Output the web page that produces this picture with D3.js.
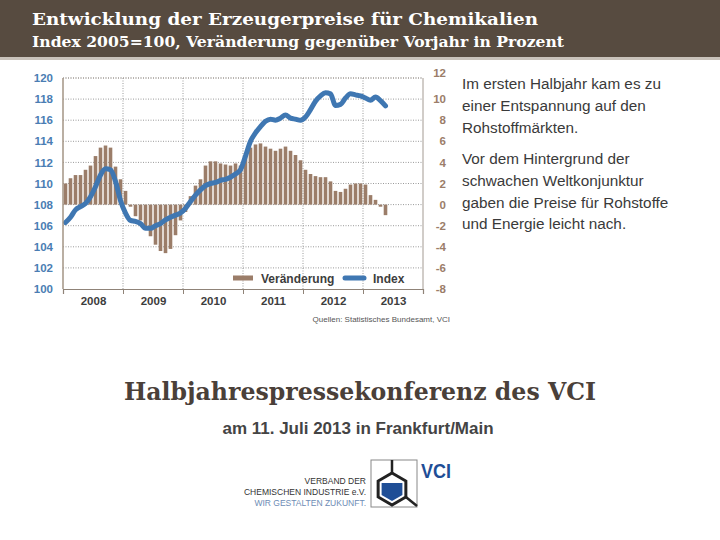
<!DOCTYPE html>
<html lang="de">
<head>
<meta charset="UTF-8">
<title>Erzeugerpreise Chemikalien</title>
<style>
  body { margin: 0; background: #fff; }
  svg { display: block; }
</style>
</head>
<body>
<svg width="720" height="540"></svg>
<script src="https://cdn.jsdelivr.net/npm/d3@7"></script>
<script>
  // Daten: Monatswerte Jan 2008 bis Mai 2013
  var years = ["2008", "2009", "2010", "2011", "2012", "2013"];
  // Veränderung gegenüber Vorjahr in Prozent (rechte Achse)
  var veraenderung = [
    2.0, 2.5, 2.8, 2.8, 3.3, 3.7, 4.6, 5.4, 5.6, 5.4, 3.6, 2.4,
    1.3, -0.2, -1.1, -1.5, -2.3, -3.0, -3.8, -4.4, -4.6, -4.2, -2.9, -1.5,
    -0.7, 0.8, 1.8, 2.4, 3.7, 4.1, 4.1, 3.9, 3.8, 3.7, 3.9, 3.7,
    4.7, 5.4, 5.7, 5.8, 5.5, 5.3, 5.1, 5.3, 5.5, 5.1, 4.7, 4.2,
    3.3, 2.9, 2.7, 2.6, 2.6, 2.2, 1.3, 1.2, 1.5, 1.9, 2.0, 2.0,
    1.9, 0.9, 0.45, -0.2, -1.0
  ];
  // Index 2005=100 (linke Achse)
  var index = [
    106.3, 106.8, 107.5, 107.8, 108.1, 108.75, 109.7, 110.8, 111.4, 111.3, 110.2, 108.4,
    107.2, 106.5, 106.4, 106.2, 105.75, 105.75, 106.0, 106.2, 106.55, 106.8, 107.0, 107.2,
    107.65, 108.3, 108.9, 109.4, 109.8, 110.0, 110.1, 110.3, 110.4, 110.6, 110.9, 111.3,
    112.6, 114.0, 114.8, 115.4, 115.9, 116.1, 116.0, 116.2, 116.5, 116.2, 116.1, 116.0,
    116.3, 117.0, 117.8, 118.3, 118.6, 118.5, 117.4, 117.5, 118.1, 118.5, 118.4, 118.3,
    118.1, 117.9, 118.2, 117.85, 117.35
  ];
  var leftTicks = d3.range(100, 121, 2);
  var rightTicks = d3.range(-8, 13, 2);
  var textLines1 = ["Im ersten Halbjahr kam es zu", "einer Entspannung auf den", "Rohstoffmärkten."];
  var textLines2 = ["Vor dem Hintergrund der", "schwachen Weltkonjunktur", "gaben die Preise für Rohstoffe", "und Energie leicht nach."];

  var svg = d3.select("svg");

  // Kopfzeile
  svg.append("rect").attr("x", 0).attr("y", 0).attr("width", 720).attr("height", 58).attr("fill", "#574b40");
  svg.append("rect").attr("x", 0).attr("y", 57).attr("width", 720).attr("height", 3).attr("fill", "#c9c2ba");
  svg.append("text").attr("x", 32).attr("y", 25)
    .attr("font-family", "DejaVu Serif").attr("font-weight", "bold").attr("font-size", 17)
    .attr("fill", "#fff").attr("textLength", 506).attr("lengthAdjust", "spacingAndGlyphs")
    .text("Entwicklung der Erzeugerpreise für Chemikalien");
  svg.append("text").attr("x", 32).attr("y", 47)
    .attr("font-family", "DejaVu Serif").attr("font-weight", "bold").attr("font-size", 14.5)
    .attr("fill", "#fff").attr("textLength", 532).attr("lengthAdjust", "spacingAndGlyphs")
    .text("Index 2005=100, Veränderung gegenüber Vorjahr in Prozent");

  // Skalen
  var x = d3.scaleLinear().domain([0, 72]).range([63, 423]);
  var yL = d3.scaleLinear().domain([100, 120]).range([289, 78]);
  var yR = d3.scaleLinear().domain([-8, 12]).range([289, 78]);

  var g = svg.append("g");

  // Gitter
  g.append("g").selectAll("line").data(leftTicks.filter(function (d) { return d > 100; })).enter().append("line")
    .attr("x1", 63).attr("x2", 423)
    .attr("y1", function (d) { return yL(d); }).attr("y2", function (d) { return yL(d); })
    .attr("stroke", "#9a9a9a").attr("stroke-width", 1).attr("stroke-dasharray", "1,1.5");
  g.append("g").selectAll("line").data(d3.range(1, 6)).enter().append("line")
    .attr("x1", function (d) { return x(d * 12); }).attr("x2", function (d) { return x(d * 12); })
    .attr("y1", 78).attr("y2", 289)
    .attr("stroke", "#9a9a9a").attr("stroke-width", 1).attr("stroke-dasharray", "1,1.5");

  // Balken
  g.append("g").selectAll("rect").data(veraenderung).enter().append("rect")
    .attr("x", function (d, i) { return x(i + 0.5) - 1.8; })
    .attr("width", 3.6)
    .attr("y", function (d) { return d >= 0 ? yR(d) : yR(0); })
    .attr("height", function (d) { return Math.abs(yR(d) - yR(0)); })
    .attr("fill", "#9b7d69");

  // Indexlinie
  var line = d3.line()
    .x(function (d, i) { return x(i + 0.5); })
    .y(function (d) { return yL(d); })
    .curve(d3.curveMonotoneX);
  g.append("path").datum(index)
    .attr("d", line)
    .attr("fill", "none").attr("stroke", "#3f77b2").attr("stroke-width", 5)
    .attr("stroke-linecap", "round").attr("stroke-linejoin", "round");

  // Achsenlinien
  g.append("line").attr("x1", 63).attr("x2", 63).attr("y1", 78).attr("y2", 289).attr("stroke", "#a39484").attr("stroke-width", 1.5);
  g.append("line").attr("x1", 423).attr("x2", 423).attr("y1", 78).attr("y2", 289).attr("stroke", "#a39a92").attr("stroke-width", 1);
  g.append("line").attr("x1", 63).attr("x2", 423).attr("y1", 78).attr("y2", 78).attr("stroke", "#a39a92").attr("stroke-width", 1).attr("stroke-dasharray", "1,1.5");

  var bottomTicks = d3.axisBottom(x).tickValues(d3.range(0, 73, 12)).tickSize(5).tickFormat("");
  var bt = g.append("g").attr("transform", "translate(0,289)").call(bottomTicks);
  bt.select(".domain").attr("stroke", "#8f8378").attr("stroke-width", 1.2);
  bt.selectAll(".tick line").attr("stroke", "#8f8378");

  var yearAxis = d3.axisBottom(x).tickValues(d3.range(6, 72, 12)).tickSize(0)
    .tickFormat(function (d, i) { return years[i]; });
  var ya = g.append("g").attr("transform", "translate(0,289)").call(yearAxis);
  ya.select(".domain").remove();
  ya.selectAll("text").attr("dy", 12.5).attr("font-family", "Liberation Sans").attr("font-weight", "bold")
    .attr("font-size", 11.5).attr("fill", "#3d3d3d");

  var leftAxis = d3.axisLeft(yL).tickValues(leftTicks).tickSize(0).tickPadding(10);
  var la = g.append("g").attr("transform", "translate(63,0)").call(leftAxis);
  la.select(".domain").remove();
  la.selectAll("text").attr("font-family", "Liberation Sans").attr("font-weight", "bold")
    .attr("font-size", 11.5).attr("fill", "#4a7db3");

  var rightAxis = d3.axisRight(yR).tickValues(rightTicks).tickSize(0)
    .tickFormat(function (d) { return String(d); });
  var ra = g.append("g").attr("transform", "translate(423,0)").call(rightAxis);
  ra.select(".domain").remove();
  ra.selectAll("text").attr("x", 23).attr("text-anchor", "end").attr("font-family", "Liberation Sans")
    .attr("font-weight", "bold").attr("font-size", 11.5).attr("fill", "#9b7d69");
  ra.selectAll(".tick").filter(function (d) { return d === 12; }).select("text").attr("dy", "-0.1em");

  // Legende
  var lg = g.append("g").attr("transform", "translate(0,278)");
  lg.append("rect").attr("x", 233).attr("y", -2.5).attr("width", 20).attr("height", 5).attr("fill", "#9b7d69");
  lg.append("text").attr("x", 261).attr("y", 4.5).attr("font-family", "Liberation Sans").attr("font-weight", "bold")
    .attr("font-size", 12).attr("fill", "#3d3d3d").text("Veränderung");
  lg.append("line").attr("x1", 345).attr("x2", 364).attr("y1", 0).attr("y2", 0)
    .attr("stroke", "#3f77b2").attr("stroke-width", 5).attr("stroke-linecap", "round");
  lg.append("text").attr("x", 373).attr("y", 4.5).attr("font-family", "Liberation Sans").attr("font-weight", "bold")
    .attr("font-size", 12).attr("fill", "#3d3d3d").text("Index");

  // Quelle
  svg.append("text").attr("x", 450).attr("y", 322).attr("text-anchor", "end")
    .attr("font-family", "Liberation Sans").attr("font-size", 8).attr("fill", "#555")
    .text("Quellen: Statistisches Bundesamt, VCI");

  // Text rechts
  var tx = svg.append("g").attr("font-family", "Liberation Sans").attr("font-size", 15.3).attr("fill", "#3a3a3a");
  textLines1.forEach(function (t, i) {
    tx.append("text").attr("x", 462).attr("y", 89 + i * 21.8).text(t);
  });
  textLines2.forEach(function (t, i) {
    tx.append("text").attr("x", 462).attr("y", 164 + i * 21.8).text(t);
  });

  // Titel unten
  svg.append("text").attr("x", 360).attr("y", 400).attr("text-anchor", "middle")
    .attr("font-family", "DejaVu Serif").attr("font-weight", "bold").attr("font-size", 25)
    .attr("fill", "#4a4039").attr("textLength", 472).attr("lengthAdjust", "spacingAndGlyphs")
    .text("Halbjahrespressekonferenz des VCI");
  svg.append("text").attr("x", 358).attr("y", 434).attr("text-anchor", "middle")
    .attr("font-family", "Liberation Sans").attr("font-weight", "bold").attr("font-size", 17)
    .attr("fill", "#444").text("am 11. Juli 2013 in Frankfurt/Main");

  // Logo
  var logo = svg.append("g");
  logo.append("rect").attr("x", 371).attr("y", 460).attr("width", 46).attr("height", 47)
    .attr("fill", "#fff").attr("stroke", "#888").attr("stroke-width", 1);
  var cx = 392, cy = 489, r = 16;
  var hex = d3.range(6).map(function (k) {
    var a = Math.PI / 180 * (60 * k - 90);
    return [cx + r * Math.cos(a), cy + r * Math.sin(a)];
  });
  var ri = r - 4;
  var inner = [[cx - ri * 0.866, cy - 6], [cx + ri * 0.866, cy - 6], [cx + ri * 0.866, cy + ri / 2], [cx, cy + ri], [cx - ri * 0.866, cy + ri / 2]];
  logo.append("polygon").attr("points", inner.map(function (p) { return p.join(","); }).join(" ")).attr("fill", "#1f4e96");
  logo.append("polygon").attr("points", hex.map(function (p) { return p.join(","); }).join(" "))
    .attr("fill", "none").attr("stroke", "#222").attr("stroke-width", 3).attr("stroke-linejoin", "miter");
  logo.append("line").attr("x1", cx).attr("x2", cx).attr("y1", 460).attr("y2", cy - r).attr("stroke", "#222").attr("stroke-width", 2.5);
  logo.append("line").attr("x1", hex[2][0]).attr("y1", hex[2][1]).attr("x2", 417).attr("y2", 506).attr("stroke", "#222").attr("stroke-width", 2.5);
  logo.append("text").attr("x", 421).attr("y", 478).attr("font-family", "Liberation Sans Narrow, Liberation Sans")
    .attr("font-weight", "bold").attr("font-size", 20).attr("fill", "#1f4e96")
    .attr("textLength", 30).attr("lengthAdjust", "spacingAndGlyphs").text("VCI");
  var lt = logo.append("g").attr("font-family", "Liberation Sans Narrow, Liberation Sans").attr("font-size", 8.5).attr("text-anchor", "end");
  lt.append("text").attr("x", 366).attr("y", 484).attr("fill", "#333").text("VERBAND DER");
  lt.append("text").attr("x", 366).attr("y", 495).attr("fill", "#333").text("CHEMISCHEN INDUSTRIE e.V.");
  lt.append("text").attr("x", 366).attr("y", 506).attr("fill", "#6d8cb5").text("WIR GESTALTEN ZUKUNFT.");
</script>
</body>
</html>
